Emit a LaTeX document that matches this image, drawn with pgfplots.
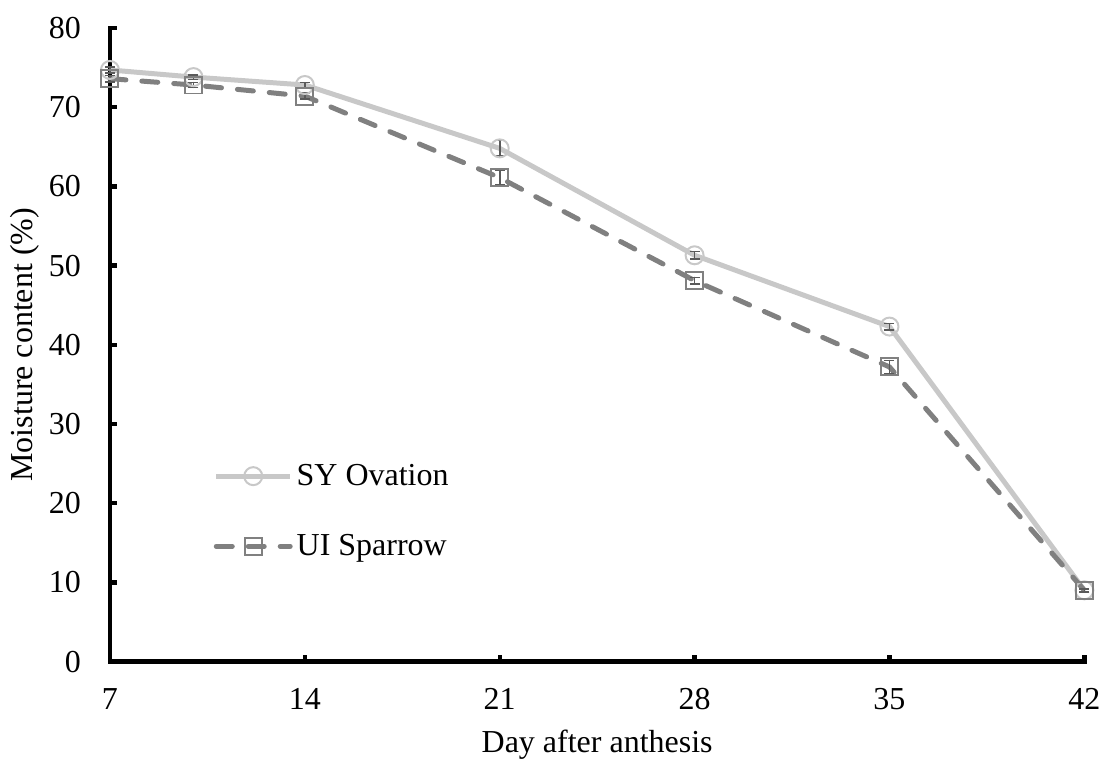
\documentclass[border=0pt]{standalone}
\usepackage{pgfplots}
\pgfplotsset{compat=1.18}
\usepackage{fontspec}
\setmainfont{Liberation Serif}
\definecolor{lightg}{HTML}{C8C8C8}
\definecolor{darkg}{HTML}{808080}
\newcommand{\fs}{\fontsize{16}{19}\selectfont}
\begin{document}
\begin{tikzpicture}
\begin{axis}[
  scale only axis,
  width=487.5pt, height=317pt,
  xmin=7, xmax=42, ymin=0, ymax=80,
  axis x line=bottom, axis y line=left,
  axis line style={-, line width=2.2pt, line cap=rect},
  xtick={7,14,21,28,35,42}, ytick={0,10,...,80},
  major tick length=3.5pt,
  every tick/.style={black, line width=2.2pt},
  tick align=inside,
  /pgf/number format/assume math mode=true,
  ticklabel style={font=\fs},
  yticklabel style={xshift=-11pt},
  xticklabel style={yshift=-10pt},
  xlabel={Day after anthesis},
  ylabel={Moisture content (\%)},
  label style={font=\fs},
  xlabel style={yshift=-3pt},
  ylabel style={yshift=-2pt},
  clip=false,
  legend style={draw=none, fill=none, font=\fs, at={(axis cs:10.5,26.0)}, anchor=north west, row sep=19pt, legend cell align=left},
  legend image code/.code={
    \draw[#1] (0cm,0cm) -- (1.3cm,0cm);
    \draw[#1, solid, mark repeat=1, only marks] plot coordinates {(0.65cm,0cm)};
  },
]
\addplot[lightg, line width=2.5pt, mark=o, mark size=4.5pt,
  mark options={lightg, line width=1pt, solid, fill=white, fill opacity=0},
  error bars/.cd, y dir=both, y explicit,
  error bar style={darkg!70!black, line width=0.8pt},
  error mark options={rotate=90, mark size=2.5pt, darkg!70!black, line width=0.8pt}]
  coordinates {
  (7,74.7) +- (0,0.4)
  (10,73.8) +- (0,0.3)
  (14,72.8) +- (0,0.3)
  (21,64.8) +- (0,1.0)
  (28,51.3) +- (0,0.5)
  (35,42.3) +- (0,0.4)
  (42,9.0) +- (0,0.2)
  };
\addlegendentry{SY Ovation}
\addplot[darkg, line width=2.5pt, dash pattern=on 8pt off 8pt, line cap=round, mark=square, mark size=4.25pt,
  mark options={darkg, line width=1pt, solid, line cap=butt, fill=none},
  error bars/.cd, y dir=both, y explicit,
  error bar style={darkg!70!black, line width=0.8pt, solid},
  error mark options={rotate=90, mark size=2.5pt, darkg!70!black, line width=0.8pt}]
  coordinates {
  (7,73.6) +- (0,0.4)
  (10,72.8) +- (0,0.3)
  (14,71.4) +- (0,0.4)
  (21,61.1) +- (0,0.9)
  (28,48.1) +- (0,0.4)
  (35,37.2) +- (0,0.8)
  (42,9.0) +- (0,0.2)
  };
\addlegendentry{UI Sparrow}
\end{axis}
\useasboundingbox ([shift={(-55pt,-51.5pt)}]current axis.south west) rectangle ([shift={(11pt,14pt)}]current axis.north east);
\end{tikzpicture}
\end{document}
